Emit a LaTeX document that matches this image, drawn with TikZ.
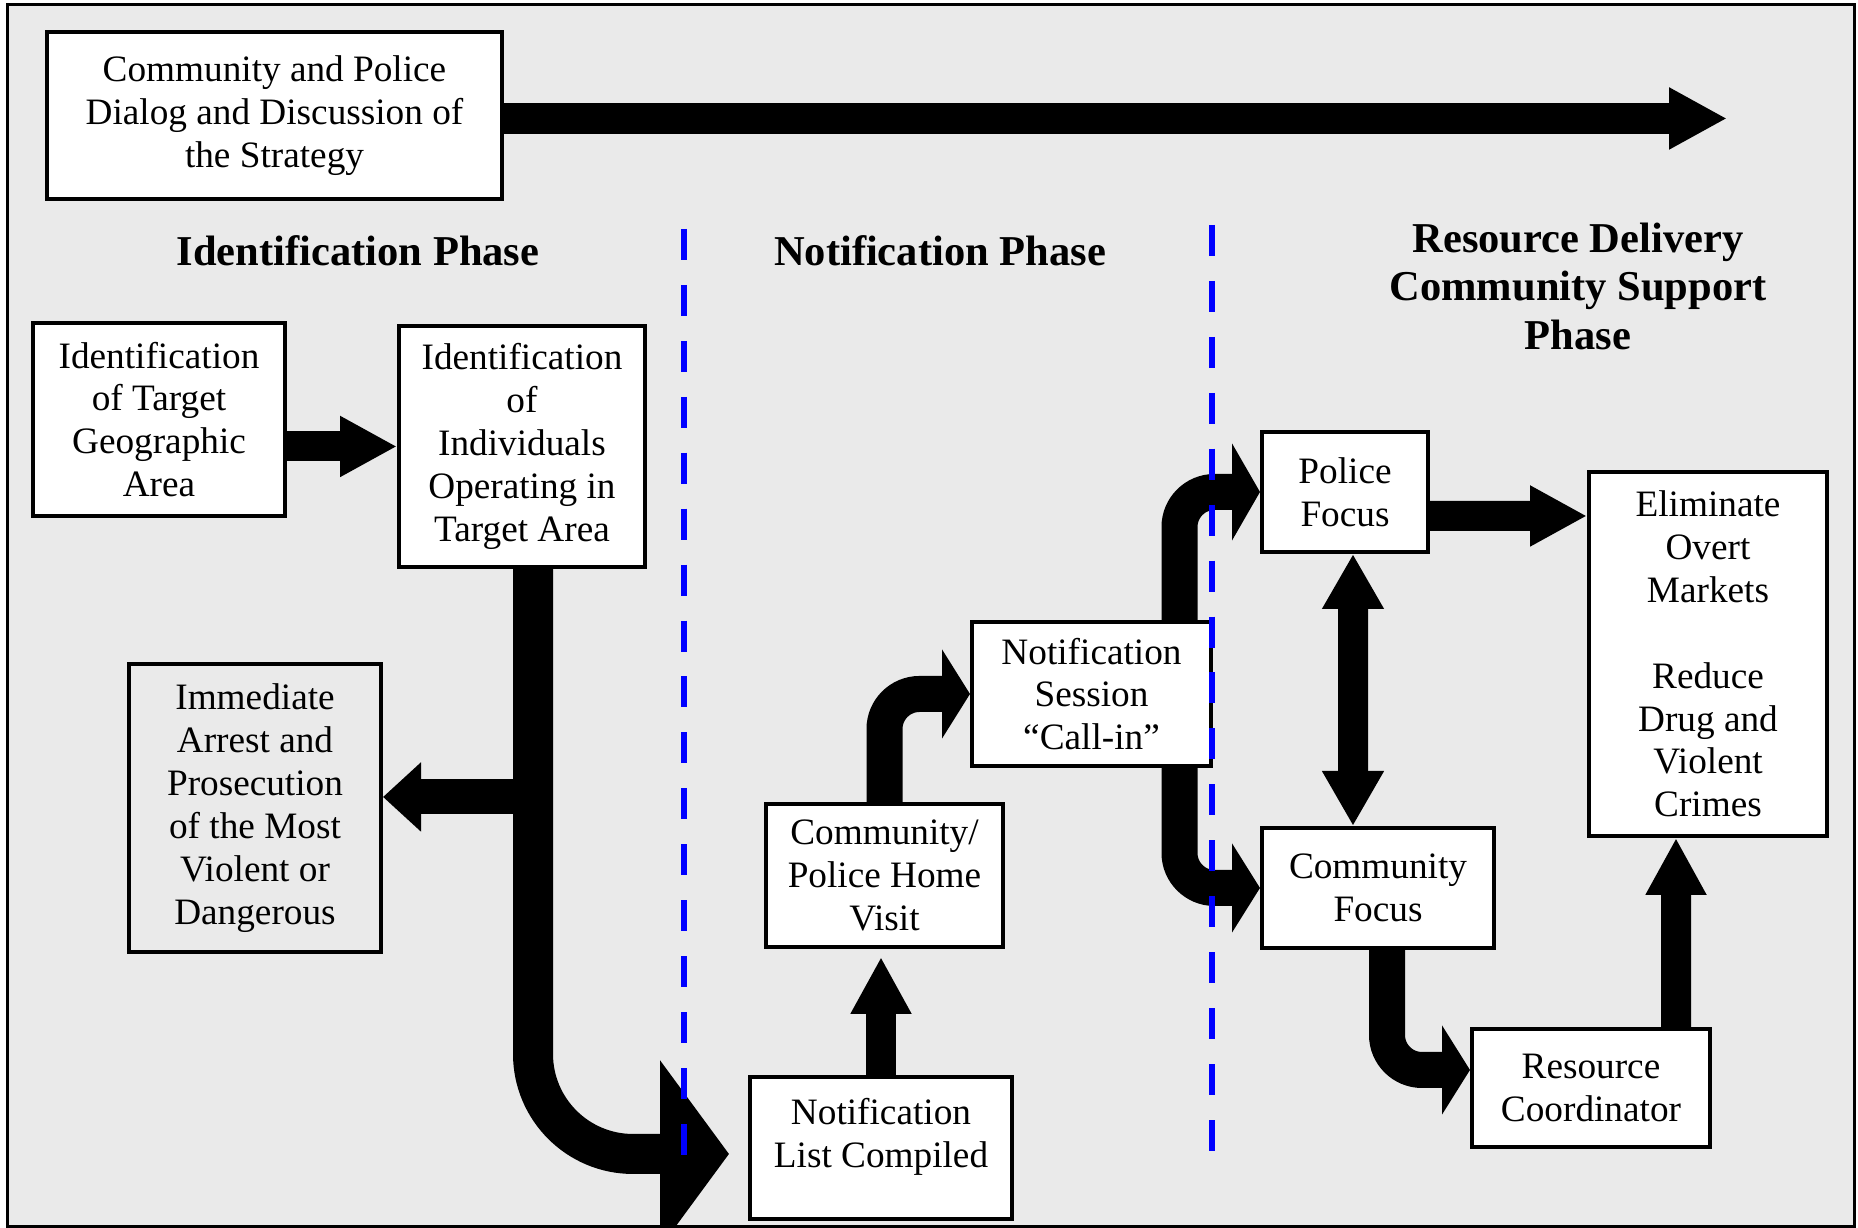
\documentclass[tikz,border=0pt]{standalone}
\usepackage{fontspec}
\setmainfont{Liberation Serif}
\usetikzlibrary{arrows.meta}

\definecolor{panelgray}{RGB}{234,234,234}
\definecolor{phaseblue}{RGB}{0,0,255}

\tikzset{
  stage/.style={draw, line width=0.04cm, fill=white, align=center, inner sep=0pt,
    font=\fontsize{10.6}{12.2}\selectfont},
  phasetitle/.style={align=center, font=\fontsize{12.1}{13.8}\selectfont\bfseries},
  fatarrow/.style={line width=0.3cm, -{Triangle[width=0.57cm,length=0.57cm]}},
  bentarrow/.style={line width=0.36cm, rounded corners=0.35cm,
    -{Triangle[width=0.88cm,length=0.28cm]}},
  divider/.style={phaseblue, line width=0.06cm, dash pattern=on 0.31cm off 0.2494cm}
}

\begin{document}
\begin{tikzpicture}
  \useasboundingbox (0,0) rectangle (18.58,12.28);
  \clip (0,0) rectangle (18.58,12.28);

  % Background panel
  \draw[fill=panelgray, line width=0.03cm] (0.07,12.23) rectangle (18.54,0.01);

  % Strategy box and timeline
  \node[stage, minimum width=4.55cm, minimum height=1.67cm] (talk) at (2.745,11.125)
    {Community and Police\\Dialog and Discussion of\\the Strategy};
  \coordinate (horizon) at (17.27,11.095);
  \draw[fatarrow, line width=0.31cm, -{Triangle[width=0.58cm,length=0.58cm]}]
    (talk.east |- horizon) -- (horizon);

  % Phase titles
  \node[phasetitle] (idphase) at (3.58,9.77) {Identification Phase};
  \node[phasetitle] (notphase) at (9.40,9.77) {Notification Phase};
  \node[phasetitle] (resphase) at (15.78,9.42) {Resource Delivery\\Community Support\\Phase};

  % Identification phase
  \node[stage, minimum width=2.52cm, minimum height=1.93cm] (area) at (1.59,8.085)
    {Identification\\of Target\\Geographic\\Area};
  \node[stage, minimum width=2.46cm, minimum height=2.41cm] (indiv) at (5.22,7.815)
    {Identification\\of\\Individuals\\Operating in\\Target Area};
  \node[stage, fill=none, minimum width=2.52cm, minimum height=2.88cm] (arrest) at (2.55,4.20)
    {Immediate\\Arrest and\\Prosecution\\of the Most\\Violent or\\Dangerous};

  \draw[fatarrow] (area.east |- indiv.west) -- (indiv.west);
  \coordinate (drop) at (7.29,0.74);
  \draw[line width=0.40cm, rounded corners=1cm, -{Triangle[width=1.84cm,length=0.69cm]}]
    ([xshift=0.11cm]indiv.south) |- (drop);
  \coordinate (split) at (5.33,4.31);
  \draw[fatarrow, line width=0.35cm, -{Triangle[width=0.67cm,length=0.38cm]}]
    (split) -- (arrest.east |- split);

  % Notification phase
  \node[stage, minimum width=2.62cm, minimum height=1.42cm, text depth=0.30cm] (list) at (8.81,0.80)
    {Notification\\List Compiled};
  \node[stage, minimum width=2.37cm, minimum height=1.43cm] (visit) at (8.845,3.525)
    {Community/\\Police Home\\Visit};
  \node[stage, minimum width=2.39cm, minimum height=1.44cm] (session) at (10.915,5.34)
    {Notification\\Session\\“Call-in”};

  \draw[fatarrow, shorten >=0.08cm] (list.north) -- (list.north |- visit.south);
  \draw[bentarrow] (visit.north) |- (session.west);

  % Resource delivery phase
  \node[stage, minimum width=1.66cm, minimum height=1.20cm] (police) at (13.45,7.36)
    {Police\\Focus};
  \node[stage, minimum width=2.32cm, minimum height=1.20cm] (commfocus) at (13.78,3.40)
    {Community\\Focus};
  \node[stage, minimum width=2.38cm, minimum height=3.64cm] (elim) at (17.08,5.74)
    {Eliminate\\Overt\\Markets\\[0.43cm]Reduce\\Drug and\\Violent\\Crimes};
  \node[stage, minimum width=2.38cm, minimum height=1.18cm] (res) at (15.91,1.40)
    {Resource\\Coordinator};

  \draw[bentarrow, -{Triangle[width=0.96cm,length=0.28cm]}]
    ([xshift=0.88cm]session.north) |- (police.west);
  \draw[bentarrow] ([xshift=0.88cm]session.south) |- (commfocus.west);
  \draw[fatarrow, {Triangle[width=0.58cm,length=0.55cm]}-{Triangle[width=0.58cm,length=0.55cm]}]
    ([xshift=0.08cm]police.south) -- ([xshift=-0.25cm]commfocus.north);
  \draw[fatarrow] ([yshift=-0.24cm]police.east) -- ([yshift=1.38cm]elim.west);
  \draw[bentarrow] ([xshift=0.09cm]commfocus.south) |- ([yshift=0.18cm]res.west);
  \draw[fatarrow] ([xshift=0.85cm]res.north) -- ([xshift=-0.32cm]elim.south);

  % Phase boundaries
  \draw[divider] (6.84,9.99) -- (6.84,0.73);
  \draw[divider] (12.115,10.03) -- (12.115,0.76);
\end{tikzpicture}
\end{document}
